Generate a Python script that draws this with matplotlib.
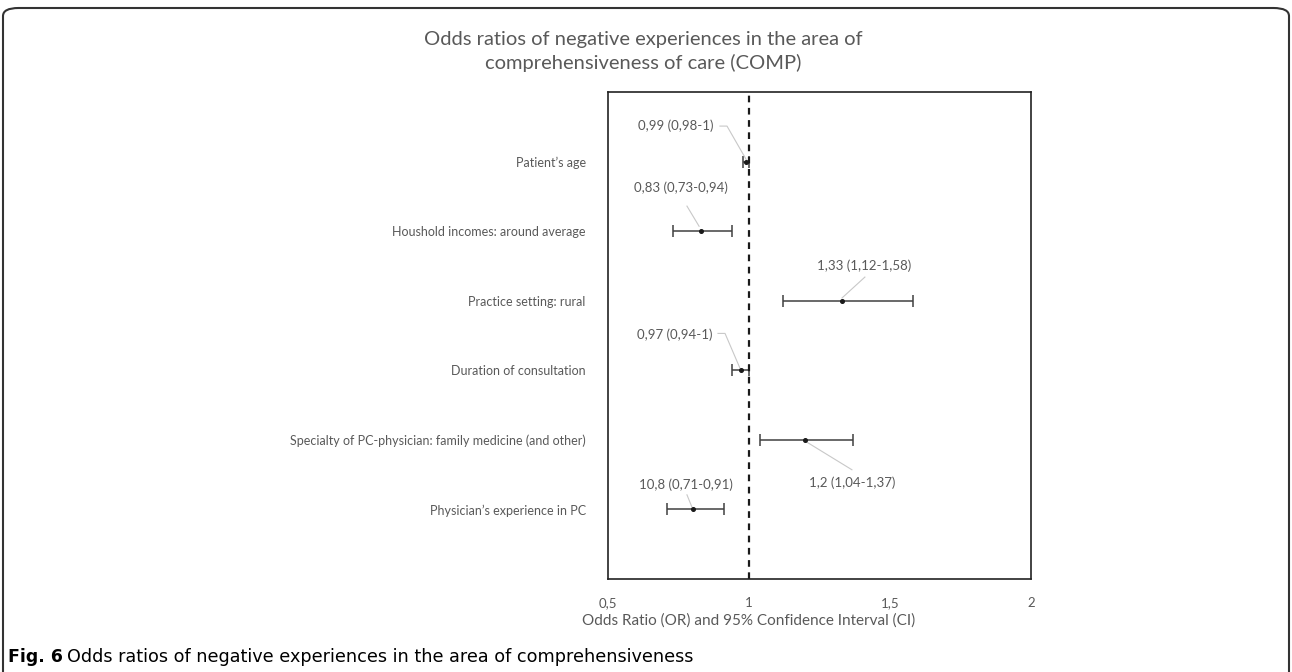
import matplotlib.pyplot as plt
from matplotlib.patches import FancyBboxPatch

labels = ["Patient\u2019s age", "Houshold incomes: around average", "Practice setting: rural",
          "Duration of consultation", "Specialty of PC-physician: family medicine (and other)",
          "Physician\u2019s experience in PC"]
odds = [0.99, 0.83, 1.33, 0.97, 1.20, 0.80]
ci_low = [0.98, 0.73, 1.12, 0.94, 1.04, 0.71]
ci_high = [1.00, 0.94, 1.58, 1.00, 1.37, 0.91]
ann_text = ["0,99 (0,98-1)", "0,83 (0,73-0,94)", "1,33 (1,12-1,58)",
            "0,97 (0,94-1)", "1,2 (1,04-1,37)", "10,8 (0,71-0,91)"]
xticks = [0.5, 1, 1.5, 2]
xticklabels = ["0,5", "1", "1,5", "2"]

gray = "#595959"
font = "Lato"

fig = plt.figure(figsize=(12.92, 6.72), dpi=100)
ax = fig.add_axes([608/1292, 1-579/672, (1031-608)/1292, (579-92)/672])

ypos = [6, 5, 4, 3, 2, 1]
err = [[o-l for o, l in zip(odds, ci_low)], [h-o for o, h in zip(odds, ci_high)]]
ax.errorbar(odds, ypos, xerr=err, fmt='o', ms=2.6, color="#1a1a1a", ecolor="#404040",
            elinewidth=1.1, capsize=4.5, capthick=1.1)
ax.axvline(1, color="#1a1a1a", lw=1.6, ls=(0, (3, 2.5)))

ax.set_xlim(0.5, 2)
ax.set_ylim(0, 7)
ax.set_xticks(xticks)
ax.set_xticklabels(xticklabels, fontsize=9.5, color=gray, family=font)
ax.set_yticks(ypos)
ax.set_yticklabels(labels, fontsize=9, color=gray, family=font)
ax.tick_params(axis='x', length=0, pad=13)
ax.tick_params(axis='y', length=0, pad=16)
for s in ax.spines.values():
    s.set_color("#222222")
    s.set_linewidth(1.2)

ax.text(1.0, -0.085, "Odds Ratio (OR) and 95% Confidence Interval (CI)", transform=ax.get_xaxis_transform(),
        ha='center', va='center', fontsize=11, color=gray, family=font)

# annotation label positions (data coords)
ann_x = [0.741, 0.759, 1.408, 0.738, 1.365, 0.777]
ann_y = [6.51, 5.62, 4.51, 3.51, 1.38, 1.35]
for t, tx, ty in zip(ann_text, ann_x, ann_y):
    ax.text(tx, ty, t, ha='center', va='center', fontsize=9.5, color=gray, family=font)

# leader lines (light gray)
lc = dict(color="#c8c8c8", lw=0.8)
ax.plot([0.897, 0.922, 0.99], [6.51, 6.51, 6.03], **lc)
ax.plot([0.780, 0.823], [5.36, 5.07], **lc)
ax.plot([1.411, 1.33], [4.34, 4.04], **lc)
ax.plot([0.890, 0.915, 0.968], [3.53, 3.53, 3.03], **lc)
ax.plot([1.2, 1.365], [1.98, 1.57], **lc)
ax.plot([0.780, 0.798], [1.21, 1.03], **lc)

fig.text(643/1292, 1 - 40/672, "Odds ratios of negative experiences in the area of",
         ha='center', va='center', fontsize=14.5, color=gray, family=font)
fig.text(643/1292, 1 - 63/672, "comprehensiveness of care (COMP)",
         ha='center', va='center', fontsize=14.5, color=gray, family=font)

t1 = fig.text(8/1292, 1 - 657/672, "Fig. 6", ha='left', va='center', fontsize=12.5,
              weight='bold', family="DejaVu Sans")
fig.canvas.draw()
bb = t1.get_window_extent()
fig.text((bb.x1 + 4) / 1292, 1 - 657/672,
         "Odds ratios of negative experiences in the area of comprehensiveness",
         ha='left', va='center', fontsize=12.7, family="DejaVu Sans")

box = FancyBboxPatch((3/1292, -0.05), 1286/1292, 1 - 8/672 + 0.05,
                     boxstyle="round,pad=0,rounding_size=0.012", transform=fig.transFigure,
                     fill=False, edgecolor="#333333", lw=1.5)
fig.patches.append(box)

fig.savefig("out.png", dpi=100)
